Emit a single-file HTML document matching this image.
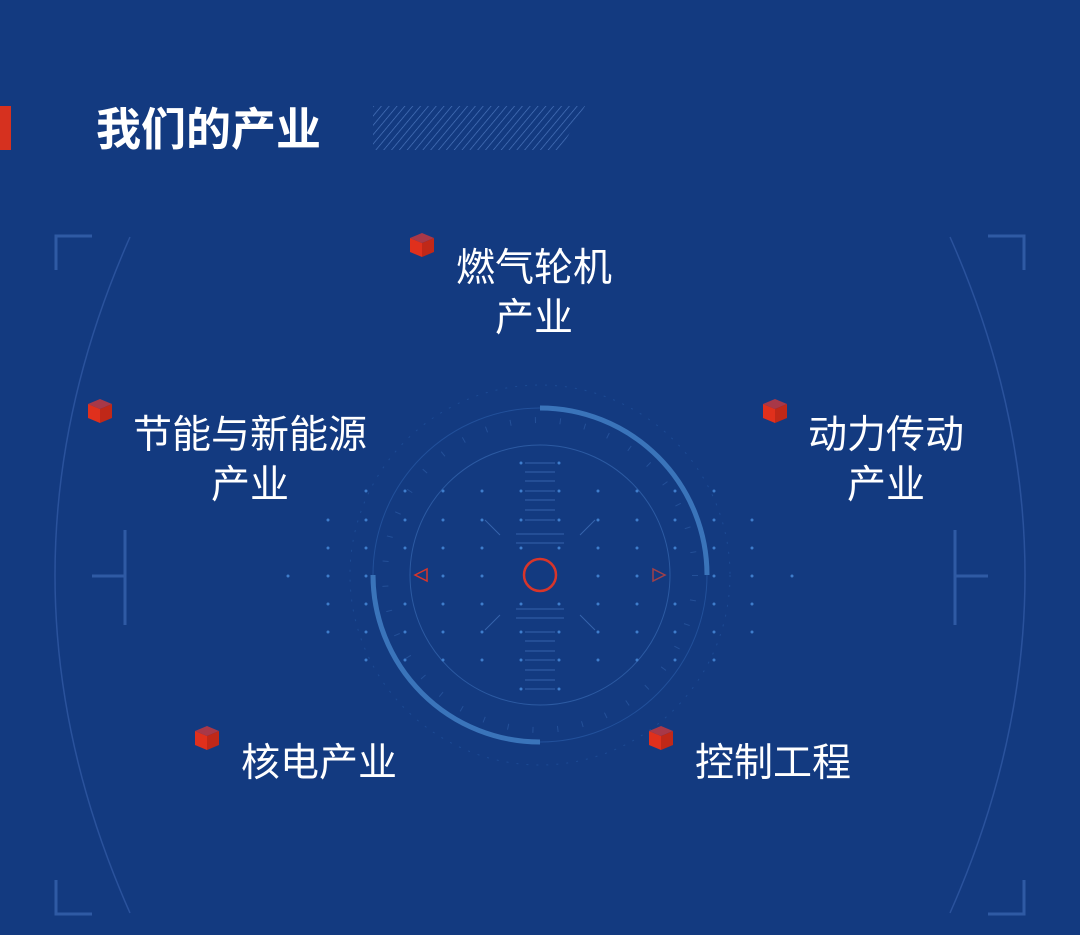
<!DOCTYPE html>
<html><head><meta charset="utf-8"><style>
html,body{margin:0;padding:0}
body{width:1080px;height:935px;background:#133a80;position:relative;overflow:hidden;font-family:"Liberation Sans","Noto Sans CJK SC",sans-serif;color:#fff}
.t{position:absolute;font-size:39px;line-height:50px;text-align:center;white-space:nowrap}
</style></head><body>
<div style="position:absolute;left:0;top:106px;width:11px;height:44px;background:#d6311f"></div>
<div style="position:absolute;left:96px;top:104px;font-size:45px;font-weight:bold;line-height:52px;">我们的产业</div>
<svg width="1080" height="935" style="position:absolute;left:0;top:0">
<defs>
<pattern id="h" width="6" height="6" patternUnits="userSpaceOnUse" patternTransform="rotate(40)"><line x1="0" y1="0" x2="0" y2="6" stroke="#4d78c0" stroke-width="1.3"/></pattern>
<g id="cube"><polygon points="0,-7 12,-12 24,-7 12,-2" fill="#a83848"/><polygon points="0,-7 12,-2 12,12 0,7" fill="#e0301c"/><polygon points="12,-2 24,-7 24,7 12,12" fill="#c02818"/></g>
</defs>
<polygon points="373,106 585,106 560,150 373,150" fill="url(#h)"/>
<g fill="none" stroke="#2f5aa4" stroke-width="3">
<path d="M56,270 V236 H92"/><path d="M1024,270 V236 H988"/>
<path d="M56,880 V914 H92"/><path d="M1024,880 V914 H988"/>
<path d="M125,530 V625"/><path d="M955,530 V625"/>
<path d="M92,576 H125"/><path d="M988,576 H955"/>
</g>
<g fill="none" stroke="#2a529c" stroke-width="1.5">
<path d="M130,237 Q-20,575 130,913"/><path d="M950,237 Q1100,575 950,913"/>
</g>
<circle cx="540" cy="575" r="130" fill="none" stroke="#2c5aa2" stroke-width="1"/>
<circle cx="540" cy="575" r="167" fill="none" stroke="#22509a" stroke-width="1"/>
<path d="M540,408 A167,167 0 0 1 707,575" fill="none" stroke="#3a74ba" stroke-width="5"/>
<path d="M373,575 A167,167 0 0 0 540,742" fill="none" stroke="#3a74ba" stroke-width="5"/>
<circle cx="540" cy="575" r="190" fill="none" stroke="#1d4b94" stroke-width="1" stroke-dasharray="2 8"/>
<circle cx="540" cy="575" r="155" fill="none" stroke="#2c5aa2" stroke-width="6" stroke-dasharray="1 24" opacity=".7"/>
<g stroke="#3563ab" stroke-width="1">
<line x1="485" y1="520" x2="500" y2="535"/><line x1="595" y1="520" x2="580" y2="535"/>
<line x1="485" y1="630" x2="500" y2="615"/><line x1="595" y1="630" x2="580" y2="615"/>
</g>
<circle cx="540" cy="575" r="16" fill="none" stroke="#d8352a" stroke-width="2.5"/>
<polygon points="415,575 427,569 427,581" fill="none" stroke="#d8352a" stroke-width="1.5"/>
<polygon points="665,575 653,569 653,581" fill="none" stroke="#a0404a" stroke-width="1.5"/>
<use href="#cube" x="410" y="245"/>
<use href="#cube" x="88" y="411"/>
<use href="#cube" x="763" y="411"/>
<use href="#cube" x="195" y="738"/>
<use href="#cube" x="649" y="738"/>
</svg>
<svg width="1080" height="935" style="position:absolute;left:0;top:0">
<g fill="#3f7dcc">
<circle cx="288" cy="576" r="1.5"/><circle cx="792" cy="576" r="1.5"/>
<circle cx="328" cy="520" r="1.5"/><circle cx="328" cy="548" r="1.5"/><circle cx="328" cy="576" r="1.5"/><circle cx="328" cy="604" r="1.5"/><circle cx="328" cy="632" r="1.5"/>
<circle cx="752" cy="520" r="1.5"/><circle cx="752" cy="548" r="1.5"/><circle cx="752" cy="576" r="1.5"/><circle cx="752" cy="604" r="1.5"/><circle cx="752" cy="632" r="1.5"/>
<circle cx="366" cy="491" r="1.5"/><circle cx="366" cy="520" r="1.5"/><circle cx="366" cy="548" r="1.5"/><circle cx="366" cy="576" r="1.5"/><circle cx="366" cy="604" r="1.5"/><circle cx="366" cy="632" r="1.5"/><circle cx="366" cy="660" r="1.5"/>
<circle cx="405" cy="491" r="1.5"/><circle cx="405" cy="520" r="1.5"/><circle cx="405" cy="548" r="1.5"/><circle cx="405" cy="604" r="1.5"/><circle cx="405" cy="632" r="1.5"/><circle cx="405" cy="660" r="1.5"/>
<circle cx="443" cy="491" r="1.5"/><circle cx="443" cy="520" r="1.5"/><circle cx="443" cy="548" r="1.5"/><circle cx="443" cy="576" r="1.5"/><circle cx="443" cy="604" r="1.5"/><circle cx="443" cy="632" r="1.5"/><circle cx="443" cy="660" r="1.5"/>
<circle cx="482" cy="491" r="1.5"/><circle cx="482" cy="520" r="1.5"/><circle cx="482" cy="548" r="1.5"/><circle cx="482" cy="576" r="1.5"/><circle cx="482" cy="604" r="1.5"/><circle cx="482" cy="632" r="1.5"/><circle cx="482" cy="660" r="1.5"/>
<circle cx="521" cy="463" r="1.5"/><circle cx="521" cy="491" r="1.5"/><circle cx="521" cy="520" r="1.5"/><circle cx="521" cy="548" r="1.5"/><circle cx="521" cy="604" r="1.5"/><circle cx="521" cy="632" r="1.5"/><circle cx="521" cy="660" r="1.5"/><circle cx="521" cy="689" r="1.5"/>
<circle cx="559" cy="463" r="1.5"/><circle cx="559" cy="491" r="1.5"/><circle cx="559" cy="520" r="1.5"/><circle cx="559" cy="548" r="1.5"/><circle cx="559" cy="604" r="1.5"/><circle cx="559" cy="632" r="1.5"/><circle cx="559" cy="660" r="1.5"/><circle cx="559" cy="689" r="1.5"/>
<circle cx="598" cy="491" r="1.5"/><circle cx="598" cy="520" r="1.5"/><circle cx="598" cy="548" r="1.5"/><circle cx="598" cy="576" r="1.5"/><circle cx="598" cy="604" r="1.5"/><circle cx="598" cy="632" r="1.5"/><circle cx="598" cy="660" r="1.5"/>
<circle cx="637" cy="491" r="1.5"/><circle cx="637" cy="520" r="1.5"/><circle cx="637" cy="548" r="1.5"/><circle cx="637" cy="576" r="1.5"/><circle cx="637" cy="604" r="1.5"/><circle cx="637" cy="632" r="1.5"/><circle cx="637" cy="660" r="1.5"/>
<circle cx="675" cy="491" r="1.5"/><circle cx="675" cy="520" r="1.5"/><circle cx="675" cy="548" r="1.5"/><circle cx="675" cy="604" r="1.5"/><circle cx="675" cy="632" r="1.5"/><circle cx="675" cy="660" r="1.5"/>
<circle cx="714" cy="491" r="1.5"/><circle cx="714" cy="520" r="1.5"/><circle cx="714" cy="548" r="1.5"/><circle cx="714" cy="576" r="1.5"/><circle cx="714" cy="604" r="1.5"/><circle cx="714" cy="632" r="1.5"/><circle cx="714" cy="660" r="1.5"/>
</g>
<g stroke="#3563ab" stroke-width="1">
<line x1="525" y1="463" x2="555" y2="463"/><line x1="525" y1="472" x2="555" y2="472"/><line x1="525" y1="481" x2="555" y2="481"/><line x1="525" y1="491" x2="555" y2="491"/><line x1="525" y1="500" x2="555" y2="500"/><line x1="525" y1="510" x2="555" y2="510"/><line x1="525" y1="520" x2="555" y2="520"/><line x1="516" y1="534" x2="564" y2="534"/><line x1="516" y1="543" x2="564" y2="543"/>
<line x1="516" y1="609" x2="564" y2="609"/><line x1="516" y1="618" x2="564" y2="618"/><line x1="525" y1="632" x2="555" y2="632"/><line x1="525" y1="641" x2="555" y2="641"/><line x1="525" y1="651" x2="555" y2="651"/><line x1="525" y1="660" x2="555" y2="660"/><line x1="525" y1="670" x2="555" y2="670"/><line x1="525" y1="680" x2="555" y2="680"/><line x1="525" y1="689" x2="555" y2="689"/>
</g>
</svg>
<div class="t" style="left:434px;top:244px;width:200px">燃气轮机<br>产业</div>
<div class="t" style="left:110px;top:411px;width:280px">节能与新能源<br>产业</div>
<div class="t" style="left:786px;top:411px;width:200px">动力传动<br>产业</div>
<div class="t" style="left:219px;top:739px;width:200px">核电产业</div>
<div class="t" style="left:673px;top:739px;width:200px">控制工程</div>
</body></html>
